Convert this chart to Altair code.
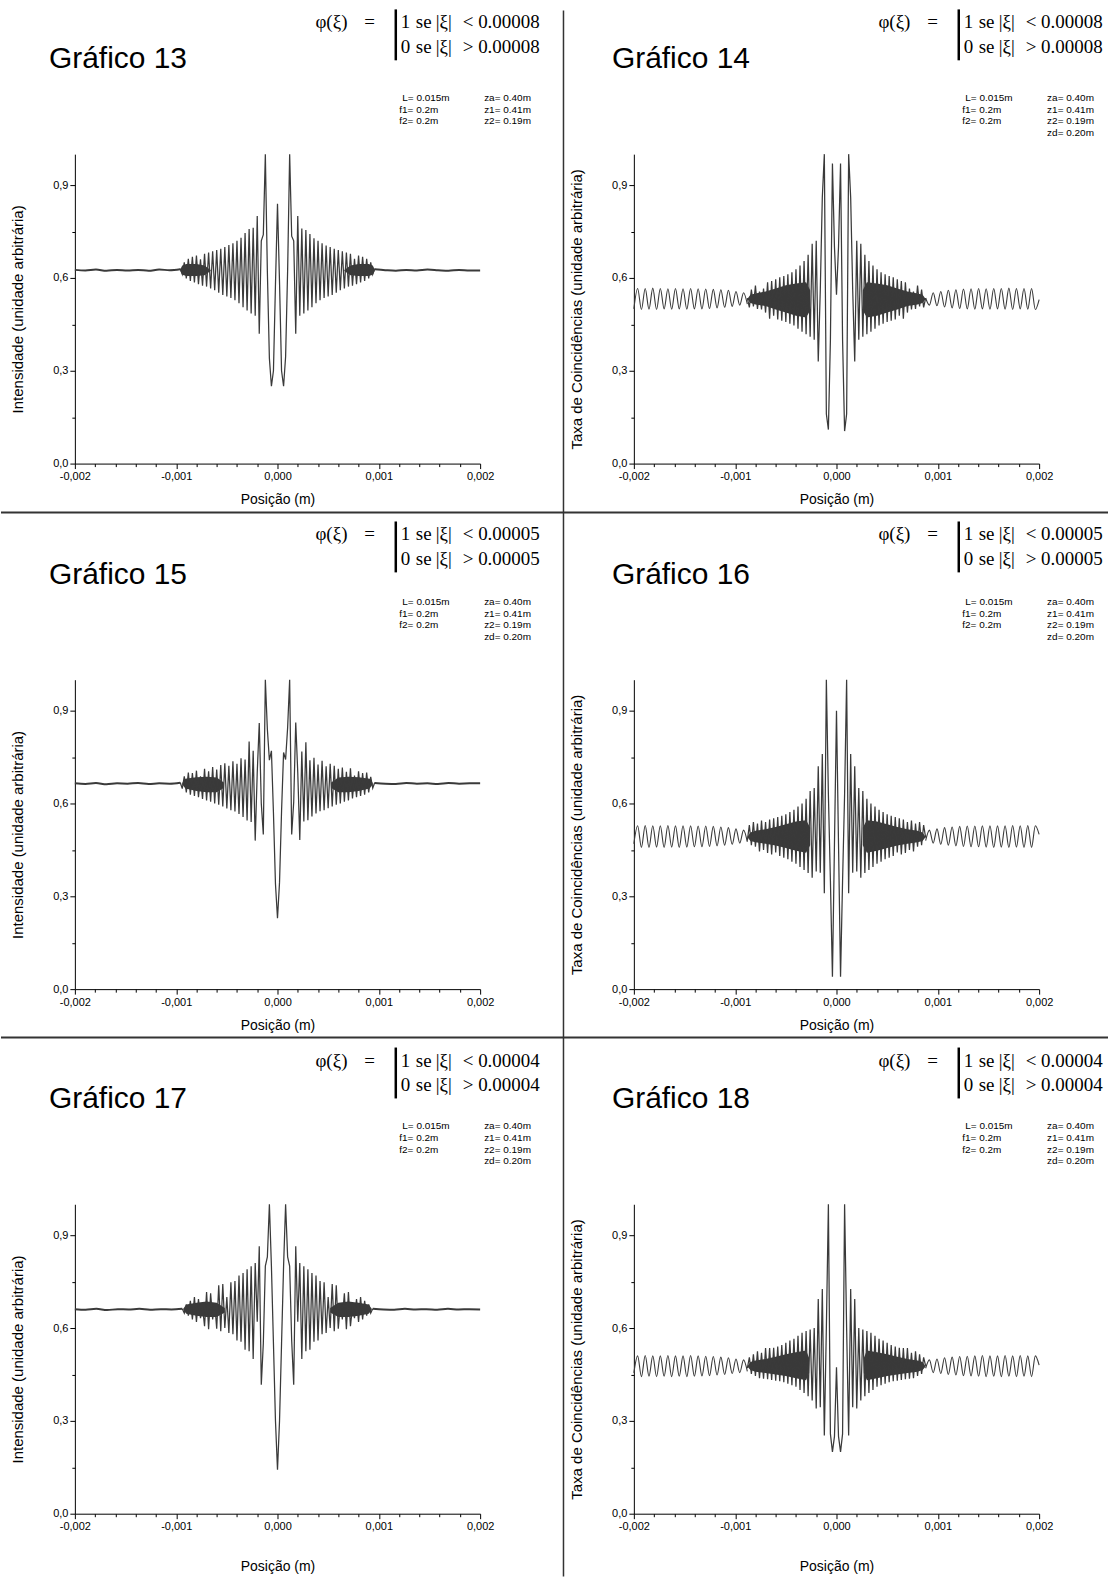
import altair as alt
import numpy as np
import pandas as pd

# ---------------- data ----------------
x_ticks = [-0.002, -0.0018, -0.0016, -0.0014, -0.0012, -0.001, -0.0008, -0.0006, -0.0004, -0.0002, 0.0,
           0.0002, 0.0004, 0.0006, 0.0008, 0.001, 0.0012, 0.0014, 0.0016, 0.0018, 0.002]
y_ticks = [0.0, 0.15, 0.3, 0.45, 0.6, 0.75, 0.9]

# Gráfico 13
p13_outer_left = [0.626, 0.624, 0.627, 0.623, 0.626, 0.624, 0.626, 0.623, 0.627, 0.625, 0.628]
p13_center = [0.630, 0.612, 0.650, 0.598, 0.662, 0.590, 0.668, 0.585, 0.672, 0.580,
              0.660, 0.575, 0.678, 0.572, 0.682, 0.566, 0.686, 0.560, 0.690, 0.552,
              0.694, 0.545, 0.700, 0.540, 0.706, 0.535, 0.712, 0.528, 0.720, 0.518,
              0.730, 0.505, 0.745, 0.495, 0.758, 0.485, 0.762, 0.478, 0.800, 0.420,
              0.720, 0.740, 1.000, 0.620, 0.340, 0.250, 0.300, 0.580,
              0.840,
              0.585, 0.300, 0.250, 0.345, 0.625, 1.000, 0.735, 0.720, 0.420, 0.800,
              0.478, 0.760, 0.485, 0.755, 0.495, 0.742, 0.505, 0.728, 0.518, 0.720,
              0.528, 0.712, 0.535, 0.705, 0.540, 0.700, 0.545, 0.694, 0.552, 0.690,
              0.560, 0.686, 0.566, 0.682, 0.572, 0.678, 0.575, 0.662, 0.580, 0.672,
              0.585, 0.668, 0.590, 0.662, 0.598, 0.650, 0.612, 0.630]
p13_outer_right = [0.628, 0.625, 0.623, 0.626, 0.624, 0.627, 0.625, 0.623, 0.626, 0.624, 0.624]
p13_band_x = [-0.00096, -0.00094, -0.0009, -0.0008, -0.00072, -0.00066,
              0.00066, 0.00072, 0.0008, 0.0009, 0.00094, 0.00096]
p13_band_hi = [0.627, 0.640, 0.645, 0.645, 0.640, 0.626, 0.626, 0.640, 0.645, 0.645, 0.640, 0.627]
p13_band_lo = [0.623, 0.610, 0.606, 0.606, 0.609, 0.622, 0.622, 0.609, 0.606, 0.606, 0.610, 0.623]

# Gráfico 14
p14_outer_left = [0.500, 0.566, 0.498, 0.566, 0.499, 0.567, 0.498, 0.566, 0.500, 0.565,
                  0.499, 0.566, 0.500, 0.565, 0.499, 0.566, 0.500, 0.565, 0.500, 0.564,
                  0.501, 0.563, 0.503, 0.562, 0.505, 0.560, 0.508, 0.556, 0.512, 0.552, 0.515]
p14_center = [0.535, 0.505, 0.562, 0.508, 0.575, 0.500, 0.556, 0.498, 0.566, 0.488,
              0.586, 0.468, 0.590, 0.478, 0.596, 0.466, 0.602, 0.462, 0.606, 0.458,
              0.612, 0.452, 0.618, 0.446, 0.628, 0.436, 0.640, 0.426, 0.655, 0.418,
              0.675, 0.410, 0.710, 0.400, 0.720, 0.330, 0.560, 0.860, 1.000, 0.160,
              0.110, 0.400, 0.970, 0.700,
              0.546,
              0.700, 0.970, 0.400, 0.105, 0.160, 1.000, 0.860, 0.560, 0.330, 0.720,
              0.400, 0.710, 0.410, 0.675, 0.418, 0.655, 0.426, 0.640, 0.436, 0.628,
              0.446, 0.618, 0.452, 0.612, 0.458, 0.606, 0.462, 0.602, 0.466, 0.596,
              0.478, 0.590, 0.468, 0.586, 0.488, 0.566, 0.498, 0.556, 0.500, 0.575,
              0.508, 0.562, 0.505, 0.535]
p14_outer_right = [0.535, 0.512, 0.552, 0.510, 0.556, 0.506, 0.560, 0.503, 0.562, 0.501,
                   0.564, 0.500, 0.565, 0.499, 0.566, 0.500, 0.565, 0.499, 0.566, 0.500,
                   0.566, 0.499, 0.567, 0.498, 0.566, 0.500, 0.566, 0.499, 0.566, 0.498, 0.530]
p14_band_x = [-0.00088, -0.00085, -0.0008, -0.0007, -0.0006, -0.0005, -0.0004, -0.0003, -0.00026,
              0.00026, 0.0003, 0.0004, 0.0005, 0.0006, 0.0007, 0.0008, 0.00085, 0.00088]
p14_band_hi = [0.532, 0.546, 0.550, 0.556, 0.566, 0.576, 0.582, 0.586, 0.560,
               0.560, 0.586, 0.582, 0.576, 0.566, 0.556, 0.550, 0.546, 0.532]
p14_band_lo = [0.532, 0.519, 0.514, 0.509, 0.498, 0.488, 0.478, 0.472, 0.495,
               0.495, 0.472, 0.478, 0.488, 0.498, 0.509, 0.514, 0.519, 0.532]

# Gráfico 15
p15_outer_left = [0.665, 0.663, 0.666, 0.662, 0.665, 0.664, 0.666, 0.663, 0.665, 0.664, 0.667]
p15_center = [0.668, 0.648, 0.688, 0.636, 0.700, 0.628, 0.698, 0.624, 0.706, 0.620,
              0.688, 0.615, 0.712, 0.610, 0.704, 0.606, 0.718, 0.600, 0.710, 0.596,
              0.724, 0.590, 0.730, 0.584, 0.722, 0.578, 0.736, 0.574, 0.728, 0.566,
              0.746, 0.556, 0.742, 0.545, 0.800, 0.540, 0.770, 0.480, 0.700, 0.860,
              0.600, 0.500, 1.000, 0.840, 0.740, 0.770, 0.570, 0.340,
              0.229,
              0.345, 0.575, 0.765, 0.742, 0.845, 1.000, 0.500, 0.605, 0.862, 0.700,
              0.482, 0.768, 0.542, 0.798, 0.546, 0.740, 0.558, 0.748, 0.568, 0.726,
              0.575, 0.738, 0.578, 0.720, 0.585, 0.728, 0.590, 0.722, 0.596, 0.712,
              0.600, 0.716, 0.606, 0.702, 0.610, 0.714, 0.616, 0.690, 0.620, 0.704,
              0.624, 0.698, 0.628, 0.700, 0.636, 0.686, 0.650, 0.668]
p15_outer_right = [0.666, 0.664, 0.663, 0.666, 0.664, 0.665, 0.663, 0.666, 0.664, 0.665, 0.665]
p15_band_x = [-0.00094, -0.00091, -0.0008, -0.0007, -0.0006, -0.00053,
              0.00053, 0.0006, 0.0007, 0.0008, 0.00091, 0.00094]
p15_band_hi = [0.666, 0.680, 0.685, 0.686, 0.684, 0.668, 0.668, 0.684, 0.686, 0.685, 0.680, 0.666]
p15_band_lo = [0.662, 0.648, 0.640, 0.636, 0.636, 0.650, 0.650, 0.636, 0.636, 0.640, 0.648, 0.662]

# Gráfico 16
p16_outer_left = [0.470, 0.528, 0.458, 0.529, 0.458, 0.528, 0.459, 0.528, 0.458, 0.529,
                  0.459, 0.528, 0.458, 0.528, 0.459, 0.528, 0.460, 0.527, 0.460, 0.527,
                  0.461, 0.526, 0.463, 0.524, 0.465, 0.522, 0.468, 0.518, 0.472, 0.514, 0.476]
p16_center = [0.480, 0.530, 0.465, 0.540, 0.460, 0.535, 0.445, 0.545, 0.450, 0.540,
              0.440, 0.548, 0.435, 0.552, 0.442, 0.556, 0.430, 0.560, 0.425, 0.565,
              0.420, 0.572, 0.412, 0.580, 0.405, 0.590, 0.395, 0.600, 0.385, 0.615,
              0.375, 0.640, 0.360, 0.650, 0.380, 0.720, 0.376, 0.760, 0.310, 1.000,
              0.630, 0.350, 0.040, 0.470,
              0.900,
              0.470, 0.040, 0.350, 0.630, 1.000, 0.310, 0.760, 0.376, 0.720, 0.380,
              0.650, 0.360, 0.640, 0.375, 0.615, 0.385, 0.600, 0.395, 0.590, 0.405,
              0.580, 0.412, 0.572, 0.420, 0.565, 0.425, 0.560, 0.430, 0.556, 0.442,
              0.552, 0.435, 0.548, 0.440, 0.540, 0.450, 0.545, 0.445, 0.535, 0.460,
              0.540, 0.465, 0.530, 0.490]
p16_outer_right = [0.480, 0.514, 0.472, 0.518, 0.468, 0.522, 0.465, 0.524, 0.463, 0.526,
                   0.461, 0.527, 0.460, 0.527, 0.460, 0.528, 0.459, 0.528, 0.458, 0.528,
                   0.459, 0.528, 0.458, 0.529, 0.459, 0.528, 0.458, 0.529, 0.458, 0.528, 0.500]
p16_band_x = [-0.00088, -0.00085, -0.0008, -0.0007, -0.0006, -0.0005, -0.0004, -0.0003, -0.00026,
              0.00026, 0.0003, 0.0004, 0.0005, 0.0006, 0.0007, 0.0008, 0.00085, 0.00088]
p16_band_hi = [0.492, 0.506, 0.512, 0.517, 0.524, 0.533, 0.542, 0.546, 0.522,
               0.522, 0.546, 0.542, 0.533, 0.524, 0.517, 0.512, 0.506, 0.492]
p16_band_lo = [0.492, 0.479, 0.475, 0.470, 0.464, 0.456, 0.447, 0.441, 0.465,
               0.465, 0.441, 0.447, 0.456, 0.464, 0.470, 0.475, 0.479, 0.492]

# Gráfico 17
p17_outer_left = [0.661, 0.659, 0.662, 0.658, 0.661, 0.660, 0.662, 0.659, 0.661, 0.660, 0.662]
p17_center = [0.662, 0.648, 0.676, 0.640, 0.688, 0.628, 0.700, 0.620, 0.694, 0.632,
              0.668, 0.606, 0.716, 0.596, 0.712, 0.628, 0.680, 0.598, 0.738, 0.590,
              0.742, 0.600, 0.700, 0.584, 0.748, 0.580, 0.752, 0.560, 0.770, 0.556,
              0.778, 0.530, 0.790, 0.525, 0.800, 0.500, 0.810, 0.620, 0.864, 0.417,
              0.550, 0.800, 0.830, 1.000, 0.800, 0.550, 0.300,
              0.142,
              0.300, 0.550, 0.800, 1.000, 0.830, 0.800, 0.560, 0.417, 0.864, 0.620,
              0.810, 0.500, 0.800, 0.525, 0.790, 0.530, 0.778, 0.556, 0.770, 0.560,
              0.752, 0.580, 0.748, 0.584, 0.700, 0.600, 0.742, 0.590, 0.738, 0.598,
              0.680, 0.628, 0.712, 0.596, 0.716, 0.606, 0.668, 0.632, 0.694, 0.620,
              0.700, 0.628, 0.688, 0.640, 0.676, 0.648, 0.662]
p17_outer_right = [0.662, 0.660, 0.659, 0.662, 0.660, 0.661, 0.659, 0.662, 0.660, 0.661, 0.660]
p17_band_x = [-0.00093, -0.0009, -0.0008, -0.0007, -0.0006, -0.00052,
              0.00052, 0.0006, 0.0007, 0.0008, 0.0009, 0.00093]
p17_band_hi = [0.662, 0.676, 0.682, 0.686, 0.682, 0.665, 0.665, 0.682, 0.686, 0.682, 0.676, 0.662]
p17_band_lo = [0.658, 0.646, 0.640, 0.636, 0.636, 0.650, 0.650, 0.636, 0.636, 0.640, 0.646, 0.658]

# Gráfico 18
p18_outer_left = [0.455, 0.510, 0.443, 0.511, 0.444, 0.510, 0.443, 0.510, 0.444, 0.511,
                  0.443, 0.510, 0.444, 0.510, 0.443, 0.511, 0.444, 0.510, 0.445, 0.509,
                  0.446, 0.508, 0.448, 0.506, 0.450, 0.504, 0.453, 0.500, 0.456, 0.497, 0.460]
p18_center = [0.470, 0.505, 0.452, 0.515, 0.445, 0.525, 0.438, 0.520, 0.436, 0.535,
              0.435, 0.535, 0.432, 0.536, 0.430, 0.540, 0.428, 0.545, 0.425, 0.552,
              0.420, 0.560, 0.415, 0.565, 0.410, 0.575, 0.400, 0.585, 0.390, 0.590,
              0.380, 0.595, 0.366, 0.600, 0.340, 0.694, 0.344, 0.726, 0.253, 0.600,
              1.000, 0.258, 0.200, 0.250,
              0.473,
              0.250, 0.200, 0.258, 1.000, 0.600, 0.253, 0.726, 0.344, 0.694, 0.340,
              0.600, 0.366, 0.595, 0.380, 0.590, 0.390, 0.585, 0.400, 0.575, 0.410,
              0.565, 0.415, 0.560, 0.420, 0.552, 0.425, 0.545, 0.428, 0.540, 0.430,
              0.536, 0.432, 0.535, 0.435, 0.535, 0.436, 0.520, 0.438, 0.525, 0.445,
              0.515, 0.452, 0.505, 0.478]
p18_outer_right = [0.470, 0.497, 0.456, 0.500, 0.453, 0.504, 0.450, 0.506, 0.448, 0.508,
                   0.446, 0.509, 0.445, 0.510, 0.444, 0.511, 0.443, 0.510, 0.444, 0.510,
                   0.443, 0.511, 0.444, 0.510, 0.443, 0.511, 0.444, 0.510, 0.443, 0.510, 0.480]
p18_band_x = [-0.00088, -0.00085, -0.0008, -0.0007, -0.0006, -0.0005, -0.0004, -0.0003, -0.00027,
              0.00027, 0.0003, 0.0004, 0.0005, 0.0006, 0.0007, 0.0008, 0.00085, 0.00088]
p18_band_hi = [0.476, 0.490, 0.495, 0.500, 0.507, 0.515, 0.522, 0.527, 0.503,
               0.503, 0.527, 0.522, 0.515, 0.507, 0.500, 0.495, 0.490, 0.476]
p18_band_lo = [0.476, 0.464, 0.459, 0.455, 0.450, 0.445, 0.438, 0.431, 0.455,
               0.455, 0.431, 0.438, 0.445, 0.450, 0.455, 0.459, 0.464, 0.476]

thresholds = {13: "0.00008", 14: "0.00008", 15: "0.00005", 16: "0.00005", 17: "0.00004", 18: "0.00004"}
ytitle_int = "Intensidade (unidade arbitrária)"
ytitle_coinc = "Taxa de Coincidências (unidade arbitrária)"

# ---------------- layout ----------------
FONT = "Liberation Sans"
SERIF = "Liberation Serif"
LC = "#3a3a3a"
W, H = 406, 310
COLX = [74, 634]
ROWY = [153, 679.5, 1205]
XTITLE_Y = [36, 36, 53]
CW, CH = 1109, 1578

one = pd.DataFrame({"k": [0]})


def make_df(ol, c, orr, edge):
    xl = np.linspace(-0.002, -edge, len(ol))
    xc = np.linspace(-edge, edge, len(c))
    xr = np.linspace(edge, 0.002, len(orr))
    return pd.concat([
        pd.DataFrame({"x": xl, "y": ol, "seg": "L"}),
        pd.DataFrame({"x": xc, "y": c, "seg": "C"}),
        pd.DataFrame({"x": xr, "y": orr, "seg": "R"}),
    ], ignore_index=True)


MAJX = "abs(datum.value*1000 - round(datum.value*1000)) < 0.01"
MAJY = "abs(datum.value*10/3 - round(datum.value*10/3)) < 0.01"


def x_axis(title_y):
    return alt.Axis(
        values=x_ticks,
        labelExpr=MAJX + " ? replace(replace(format(datum.value, '.3f'), '.', ','), '\u2212', '-') : ''",
        tickSize={"condition": {"test": MAJX, "value": 5}, "value": 3},
        title="Posição (m)", titleFont=FONT, titleFontSize=14, titleFontWeight="normal", titleColor="black",
        titleX=W / 2, titleY=title_y, titleAlign="center", titleBaseline="middle",
        labelFont=FONT, labelFontSize=11, labelColor="black", labelPadding=2,
        labelFlush=False, labelOverlap=False, labelAngle=0,
        domainColor="black", tickColor="black", grid=False,
    )


def y_axis(title):
    return alt.Axis(
        values=y_ticks,
        labelExpr=MAJY + " ? replace(format(datum.value, '.1f'), '.', ',') : ''",
        tickSize={"condition": {"test": MAJY, "value": 5}, "value": 3},
        title=title, titleFont=FONT, titleFontSize=15, titleFontWeight="normal", titleColor="black",
        titleX=-57, titleY=H / 2, titleAngle=270, titleAlign="center", titleBaseline="middle",
        labelFont=FONT, labelFontSize=11, labelColor="black", labelPadding=2,
        labelFlush=False, labelOverlap=False,
        domainColor="black", tickColor="black", grid=False,
    )


def txt(s, x, y, size, font=FONT, align="left", baseline="middle", lh=None):
    props = dict(font=font, fontSize=size, align=align, baseline=baseline, color="black", text=s)
    if lh:
        props.update(lineBreak="\n", lineHeight=lh)
    return alt.Chart(one).mark_text(**props).encode(x=alt.value(x), y=alt.value(y))


def rule(x1, y1, x2, y2, width=1.5, color="#333333"):
    return alt.Chart(one).mark_rule(color=color, strokeWidth=width).encode(
        x=alt.value(x1), y=alt.value(y1), x2=alt.value(x2), y2=alt.value(y2))


# per-row absolute text positions (left column; right column is shifted by TXT_DX)
TXT_DX = 564
GRAF_Y = [58, 575, 1100]
PHI_Y = [21, 534, 1061]
PAR_TOP = [92, 597, 1122]
GRAF_X = 48
PHI_X, EQ_X = 315, 364
BAR_X = 395.5
ONE_X, SE_X, ABS_X, REL_X, THR_X = 400.5, 415.5, 435.5, 462.5, 478
PARL_X, PARR_X = 399, 484


def build_panel(num, r, c, ol, cen, orr, edge, flat, ytitle, zd, bx, bhi, blo):
    ox, oy = COLX[c], ROWY[r]
    dx = TXT_DX * c
    df = make_df(ol, cen, orr, edge)
    band = pd.DataFrame({"x": bx, "hi": bhi, "lo": blo})
    band["side"] = np.where(band["x"] < 0, "L", "R")
    xs = alt.Scale(domain=[-0.002, 0.002], nice=False, zero=False)
    ys = alt.Scale(domain=[0, 1.0], nice=False, zero=False)
    xa = x_axis(XTITLE_Y[r])
    ya = y_axis(ytitle)
    X = alt.X("x:Q", scale=xs, axis=xa)
    Y = alt.Y("y:Q", scale=ys, axis=ya)
    base = alt.Chart(df)
    outer = base.transform_filter("datum.seg != 'C'").mark_line(
        color=LC, strokeWidth=2.0 if flat else 1.1, interpolate="monotone").encode(X, Y, detail="seg:N")
    center = base.transform_filter("datum.seg == 'C'").mark_line(
        color=LC, strokeWidth=1.25).encode(X, Y)
    area = alt.Chart(band).mark_area(color=LC, opacity=1).encode(
        x=alt.X("x:Q", scale=xs, axis=xa), y=alt.Y("hi:Q", scale=ys, axis=ya), y2="lo:Q", detail="side:N")

    thr = thresholds[num]
    layers = []
    if r == 0 and c == 0:
        # invisible anchor spanning the whole canvas, plus divider lines
        layers.append(alt.Chart(one).mark_rect(opacity=0).encode(
            x=alt.value(-ox), y=alt.value(-oy), x2=alt.value(CW - ox), y2=alt.value(CH - oy)))
        layers.append(rule(563.5 - ox, 9 - oy, 563.5 - ox, CH - oy, 1.5))
        layers.append(rule(-ox, 512 - oy, CW - ox, 512 - oy, 2))
        layers.append(rule(-ox, 1038 - oy, CW - ox, 1038 - oy, 2))
    layers += [area, outer, center]
    py = PHI_Y[r] - oy
    layers.append(txt(f"Gráfico {num}", GRAF_X + dx - ox, GRAF_Y[r] - oy, 30))
    layers.append(txt("φ(ξ)", PHI_X + dx - ox, py, 19, font=SERIF))
    layers.append(txt("=", EQ_X + dx - ox, py, 19, font=SERIF))
    for k, (d, rel) in enumerate([("1", "<"), ("0", ">")]):
        yy = py + 25 * k
        layers.append(txt(d, ONE_X + dx - ox, yy, 19, font=SERIF))
        layers.append(txt("se", SE_X + dx - ox, yy, 19, font=SERIF))
        layers.append(txt("|ξ|", ABS_X + dx - ox, yy, 19, font=SERIF))
        layers.append(txt(rel, REL_X + dx - ox, yy, 19, font=SERIF))
        layers.append(txt(thr, THR_X + dx - ox, yy, 19, font=SERIF))
    layers.append(rule(BAR_X + dx - ox, py - 13, BAR_X + dx - ox, py + 38, 2.5, "black"))
    layers.append(txt("L= 0.015m", PARL_X + 3 + dx - ox, PAR_TOP[r] - oy, 10, baseline="top"))
    layers.append(txt("f1= 0.2m\nf2= 0.2m", PARL_X + dx - ox, PAR_TOP[r] + 11.6 - oy, 10, baseline="top", lh=11.6))
    right_block = "za= 0.40m\nz1= 0.41m\nz2= 0.19m" + ("\nzd= 0.20m" if zd else "")
    layers.append(txt(right_block, PARR_X + dx - ox, PAR_TOP[r] - oy, 10, baseline="top", lh=11.6))
    return alt.layer(*layers).properties(width=W, height=H)


p13 = build_panel(13, 0, 0, p13_outer_left, p13_center, p13_outer_right, 0.00096, True, ytitle_int, False,
                  p13_band_x, p13_band_hi, p13_band_lo)
p14 = build_panel(14, 0, 1, p14_outer_left, p14_center, p14_outer_right, 0.00088, False, ytitle_coinc, True,
                  p14_band_x, p14_band_hi, p14_band_lo)
p15 = build_panel(15, 1, 0, p15_outer_left, p15_center, p15_outer_right, 0.00096, True, ytitle_int, True,
                  p15_band_x, p15_band_hi, p15_band_lo)
p16 = build_panel(16, 1, 1, p16_outer_left, p16_center, p16_outer_right, 0.00088, False, ytitle_coinc, True,
                  p16_band_x, p16_band_hi, p16_band_lo)
p17 = build_panel(17, 2, 0, p17_outer_left, p17_center, p17_outer_right, 0.00094, True, ytitle_int, True,
                  p17_band_x, p17_band_hi, p17_band_lo)
p18 = build_panel(18, 2, 1, p18_outer_left, p18_center, p18_outer_right, 0.00088, False, ytitle_coinc, True,
                  p18_band_x, p18_band_hi, p18_band_lo)

# with flush bounds the nested rows count as zero height, so spacing is the full row offset
colsp = COLX[1] - COLX[0] - W
row1 = alt.hconcat(p13, p14, spacing=colsp, bounds="flush")
row2 = alt.hconcat(p15, p16, spacing=colsp, bounds="flush")
row3 = alt.hconcat(p17, p18, spacing=colsp, bounds="flush")
lower = alt.vconcat(row2, row3, spacing=ROWY[2] - ROWY[1], bounds="flush")
chart = alt.vconcat(row1, lower, spacing=ROWY[1] - ROWY[0], bounds="flush").properties(
    padding=0, background="white"
).configure_view(stroke=None).configure_axis(grid=False)

chart.save("out.html", embed_options={"renderer": "svg", "actions": False})
